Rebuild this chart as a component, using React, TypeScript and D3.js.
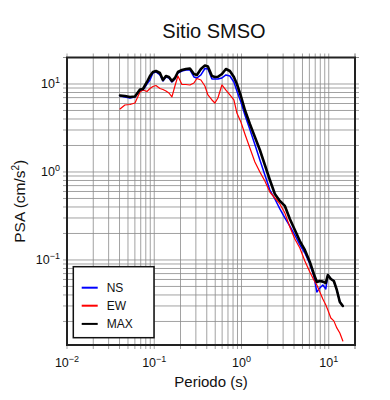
import React from 'react';
import * as d3 from 'd3';

const periods = [0.0405,0.0461,0.0527,0.0601,0.0686,0.0742,0.0825,0.0893,0.0966,0.1046,
  0.1162,0.1258,0.1362,0.1474,0.1595,0.1726,0.1868,0.2076,0.2307,0.2564,
  0.2850,0.3083,0.3426,0.3808,0.4122,0.4581,0.4957,0.5366,0.5964,0.6629,
  0.7364,0.8183,0.8858,0.984,1.094,1.248,1.424,1.625,1.854,2.115,
  2.413,2.754,3.142,3.584,4.090,4.667,5.324,6.075,6.751,7.306,
  7.908,8.559,9.265,9.766,10.57,11.44,12.38,13.40,14.51];

const nsValues = [7.30,7.12,6.93,7.12,8.54,8.54,10.0,11.10,13.33,13.68,
  12.66,10.82,12.01,11.70,10.54,11.40,13.33,14.05,14.42,14.42,
  12.01,11.70,12.66,15.0,14.80,11.40,11.40,11.40,11.70,12.66,
  12.32,10.54,8.32,6.24,4.44,3.04,2.05,1.368,0.924,0.624,
  0.493,0.380,0.300,0.243,0.192,0.148,0.120,0.090,0.0658,0.0433,
  0.0481,0.0520,0.0468,0.0675,0.0608,0.0577,0.0456,0.0333,0.0300];

const ewValues = [5.20,5.77,5.85,6.08,8.11,8.54,8.22,8.89,9.36,9.61,
  8.89,8.66,8.32,7.90,7.12,9.48,12.32,9.87,9.87,9.74,
  10.26,11.54,11.10,9.48,7.50,6.58,6.08,6.93,9.74,8.54,
  7.50,6.58,4.68,3.70,2.70,1.873,1.299,1.00,0.790,0.592,
  0.506,0.433,0.341,0.237,0.173,0.137,0.0974,0.0730,0.0592,0.0520,
  0.0433,0.0360,0.0308,0.0270,0.0219,0.0203,0.0169,0.0148,0.0120];

const maxValues = [7.40,7.30,7.12,7.21,8.66,8.77,10.54,12.32,13.68,14.05,
  13.33,11.10,12.32,12.01,10.82,11.70,13.68,14.42,14.80,15.0,
  12.99,12.66,14.80,16.22,15.85,12.32,12.01,12.10,12.99,14.80,
  14.05,12.01,10.0,7.30,5.06,3.51,2.50,1.778,1.200,0.811,
  0.562,0.468,0.411,0.292,0.219,0.164,0.130,0.0949,0.0693,0.0562,
  0.0577,0.0567,0.0548,0.0675,0.0608,0.0577,0.0456,0.0333,0.0300];

const xTickExps = [-2, -1, 0, 1];
const yTickExps = [-1, 0, 1];

const seriesNames = ['NS', 'EW', 'MAX'];
const seriesColors = ['#0000ff', '#ff0000', '#000000'];
const seriesWidths = [1.5, 1.2, 2.6];

const FONT = '"Liberation Sans", Arial, Helvetica, sans-serif';

export default function App() {
  const W = 390, H = 400;
  const L = 67, R = 355, T = 57.5, B = 345;
  const x = d3.scaleLog().domain([0.01, 20]).range([L, R]);
  const y = d3.scaleLog().domain([0.0108, 20]).range([B, T]);

  const xGrid: number[] = [];
  const yGrid: number[] = [];
  for (let e = -2; e <= 1; e++) {
    for (let k = 1; k <= 9; k++) {
      const v = k * Math.pow(10, e);
      if (v >= 0.01 && v <= 20) xGrid.push(v);
      if (v >= 0.0108 && v <= 20) yGrid.push(v);
    }
  }
  xGrid.push(20);
  yGrid.push(20);

  const allSeries = [nsValues, ewValues, maxValues];
  const line = (vals: number[]) =>
    d3.line<number>()
      .x((_, i) => x(periods[i]))
      .y((d) => y(d))(vals) || '';

  const ext = 4;
  const legendX0 = 73.3, legendY0 = 266.7, legendX1 = 154, legendY1 = 337.7;
  const legendRows = [287.7, 305.7, 323.9];

  return (
    <svg width={W} height={H} style={{ position: 'absolute', left: 0, top: 0, background: '#fff' }} fontFamily={FONT}>
      <rect x={0} y={0} width={W} height={H} fill="#fff" />
      {/* grid */}
      <g stroke="#8a8a8a" strokeWidth={0.8}>
        {xGrid.map((v, i) => (
          <line key={'gx' + i} x1={x(v)} x2={x(v)} y1={T - ext} y2={B + ext} />
        ))}
        {yGrid.map((v, i) => (
          <line key={'gy' + i} y1={y(v)} y2={y(v)} x1={L - ext} x2={R + ext} />
        ))}
      </g>
      {/* series */}
      {allSeries.map((vals, i) => (
        <path key={'s' + i} d={line(vals)} fill="none" stroke={seriesColors[i]}
          strokeWidth={seriesWidths[i]} strokeLinejoin="round" strokeLinecap="round" />
      ))}
      {/* frame */}
      <rect x={L} y={T} width={R - L} height={B - T} fill="none" stroke="#222" strokeWidth={2} />
      {/* x tick labels */}
      {xTickExps.map((e) => (
        <text key={'xt' + e} x={x(Math.pow(10, e))} y={366.7} textAnchor="middle" fontSize={12.5} fill="#111">
          10<tspan dy={-5} fontSize={9}>{e < 0 ? '\u2212' + Math.abs(e) : String(e)}</tspan>
        </text>
      ))}
      {/* y tick labels */}
      {yTickExps.map((e) => (
        <text key={'yt' + e} x={60} y={y(Math.pow(10, e)) + 4.5} textAnchor="end" fontSize={12.5} fill="#111">
          10<tspan dy={-5} fontSize={9}>{e < 0 ? '\u2212' + Math.abs(e) : String(e)}</tspan>
        </text>
      ))}
      {/* axis titles */}
      <text x={(L + R) / 2} y={387.3} textAnchor="middle" fontSize={15} fill="#111">Periodo (s)</text>
      <text transform={`translate(25,${(T + B) / 2}) rotate(-90)`} textAnchor="middle" fontSize={15.5} fill="#111">
        PSA (cm/s<tspan dy={-6} fontSize={10}>2</tspan><tspan dy={6}>)</tspan>
      </text>
      <text x={214} y={38.3} textAnchor="middle" fontSize={20} fill="#111">Sitio SMSO</text>
      {/* legend */}
      <rect x={legendX0} y={legendY0} width={legendX1 - legendX0} height={legendY1 - legendY0}
        fill="#fff" stroke="#111" strokeWidth={1.5} />
      {seriesNames.map((n, i) => (
        <g key={'lg' + i}>
          <line x1={81.7} x2={97.7} y1={legendRows[i]} y2={legendRows[i]} stroke={seriesColors[i]} strokeWidth={2} />
          <text x={106.7} y={legendRows[i] + 4.3} fontSize={12} fill="#111">{n}</text>
        </g>
      ))}
    </svg>
  );
}
